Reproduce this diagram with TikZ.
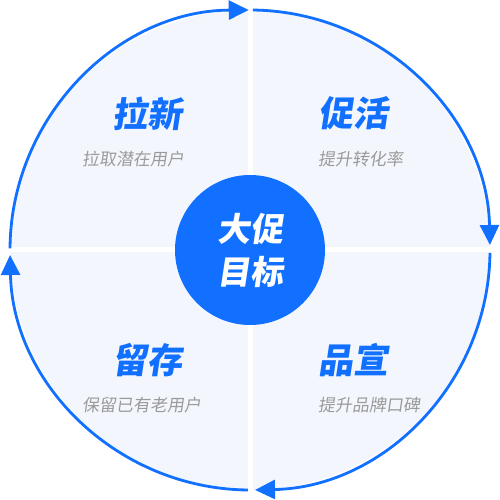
\documentclass[tikz,border=0pt]{standalone}
\usepackage{fontspec}
\newfontfamily\cjk{Noto Sans CJK SC}[FakeSlant=0.15]
\usetikzlibrary{arrows.meta}
\definecolor{mainblue}{HTML}{1170FF}
\definecolor{lightfill}{HTML}{F3F7FD}
\definecolor{subgray}{HTML}{9A9A9A}
\begin{document}
\begin{tikzpicture}[x=1pt,y=1pt,
  cyclearc/.style={mainblue, line width=2.8pt, -{Triangle[length=20pt,width=19pt]}},
  titletext/.style={font=\cjk\bfseries\fontsize{35}{40}\selectfont, text=mainblue, inner sep=0pt, anchor=west},
  subtext/.style={font=\cjk\fontsize{17}{20}\selectfont, text=subgray, inner sep=0pt, anchor=west},
  gapline/.style={white, line width=5pt},
  goalnode/.style={circle, fill=mainblue, minimum size=150pt, inner sep=0pt, text=white, align=center,
    font=\cjk\bfseries\fontsize{33}{43}\selectfont}]
\useasboundingbox (0,0) rectangle (500,500);
\coordinate (O) at (250,250);
\fill[lightfill] (O) circle[radius=240];
\coordinate (L) at (0,250);
\coordinate (R) at (500,250);
\coordinate (T) at (250,500);
\coordinate (B) at (250,0);
\draw[gapline] (L) -- (R);
\draw[gapline] (T) -- (B);
% cycle arcs
\draw[cyclearc] ([shift={(179.6:240)}]O) arc[start angle=179.6, end angle=90.3, radius=240];
\draw[cyclearc] ([shift={(89.3:240)}]O) arc[start angle=89.3, end angle=1.2, radius=240];
\draw[cyclearc] ([shift={(-0.7:240)}]O) arc[start angle=-0.7, end angle=-88.8, radius=240];
\draw[cyclearc] ([shift={(-90.5:240)}]O) arc[start angle=-90.5, end angle=-178.8, radius=240];
% centre
\node[goalnode] (goal) at (O) {大促\\目标};
% quadrant texts
\node[titletext] (t1) at (112,386.5) {拉新};
\node[subtext] (s1) at (82,341) {拉取潜在用户};
\node[titletext] (t2) at (318,386.5) {促活};
\node[subtext] (s2) at (318,341) {提升转化率};
\node[titletext] (t3) at (112,140) {留存};
\node[subtext] (s3) at (82,95) {保留已有老用户};
\node[titletext] (t4) at (318,140) {品宣};
\node[subtext] (s4) at (318,95) {提升品牌口碑};
\end{tikzpicture}
\end{document}
